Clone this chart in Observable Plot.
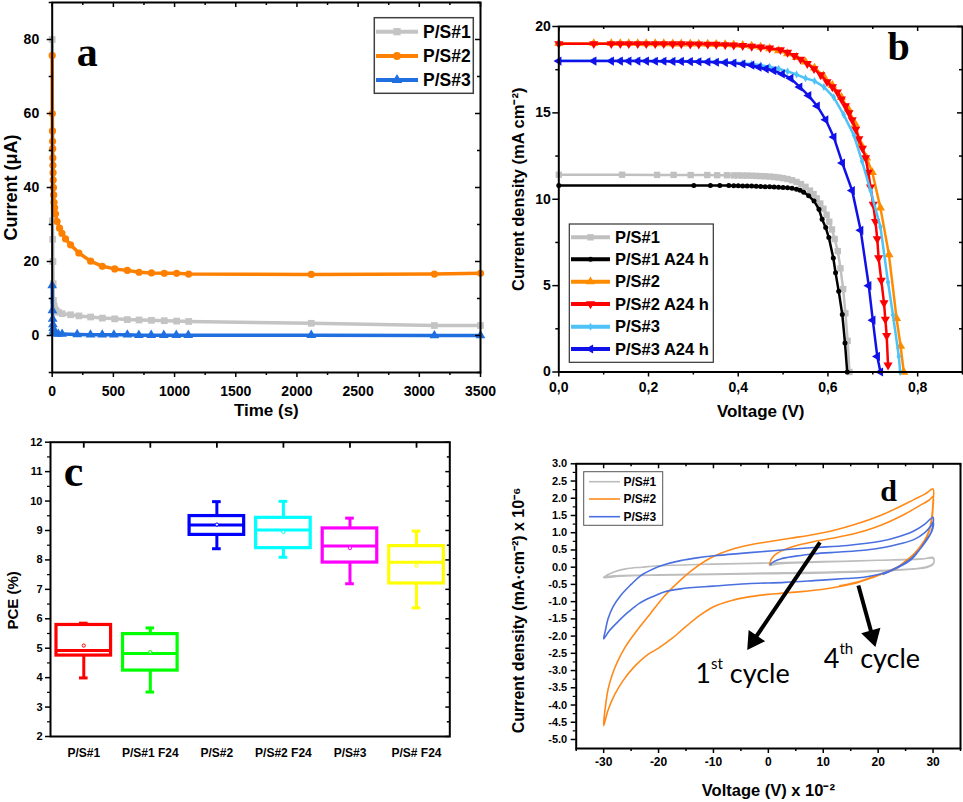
<!DOCTYPE html>
<html><head><meta charset="utf-8">
<script src="https://cdn.jsdelivr.net/npm/d3@7"></script>
<script src="https://cdn.jsdelivr.net/npm/@observablehq/plot@0.6"></script>
<style>
body{margin:0;background:#fff;}
#wrap{position:relative;width:963px;height:802px;overflow:hidden;background:#fff;}
</style>
</head><body><div id="wrap"></div>
<script>
// ===================== DATA =====================
// Panel a: current vs time
const aNames = ["P/S#1", "P/S#2", "P/S#3"];
const aColors = ["#c4c4c4", "#ff8000", "#1f6fe0"];
const ps1Time = [0, 2, 4, 6, 8, 10, 15, 20, 30, 50, 81, 150, 218, 314, 410, 511, 614, 710, 811, 916, 1017, 1115, 2117, 3123, 3500];
const ps1Current = [80, 31, 26, 20, 14, 9.5, 8.0, 7.3, 6.8, 6.3, 5.9, 5.6, 5.3, 5.0, 4.7, 4.5, 4.3, 4.2, 4.1, 4.0, 3.9, 3.8, 3.3, 2.7, 2.7];
const ps2Time = [0, 1, 2, 3, 4, 5, 6, 7, 8, 10, 12, 15, 20, 27, 40, 60, 80, 109, 150, 218, 314, 410, 511, 614, 710, 811, 916, 1017, 1115, 2117, 3123, 3500];
const ps2Current = [75.7, 60, 55.3, 52.5, 50.5, 48, 46, 44, 42, 40, 38, 36, 34.5, 32.9, 30.8, 29.0, 27.6, 26.1, 24.5, 22.3, 20.1, 18.7, 18.0, 17.6, 17.1, 16.9, 16.8, 16.8, 16.6, 16.5, 16.6, 16.8];
const ps3Time = [0, 2, 4, 6, 8, 10, 15, 20, 30, 50, 81, 204, 313, 409, 504, 614, 708, 809, 912, 1014, 1112, 2117, 3123, 3500];
const ps3Current = [13.5, 6.8, 4.5, 3.0, 2.0, 1.2, 0.8, 0.6, 0.5, 0.4, 0.4, 0.3, 0.2, 0.2, 0.2, 0.2, 0.1, 0.1, 0.1, 0.1, 0.1, 0.1, 0.0, 0.0];

// Panel b: J-V curves
const bNames = ["P/S#1", "P/S#1 A24 h", "P/S#2", "P/S#2 A24 h", "P/S#3", "P/S#3 A24 h"];
const bColors = ["#c0c0c0", "#000000", "#ff8c00", "#ff0000", "#4fc3f7", "#1010e8"];
const gV = [0, 0.141, 0.219, 0.256, 0.294, 0.331, 0.353, 0.375, 0.39, 0.40, 0.41, 0.42, 0.43, 0.44, 0.45, 0.46, 0.47, 0.48, 0.49, 0.50, 0.51, 0.52, 0.53, 0.54, 0.55, 0.56, 0.568, 0.575, 0.583, 0.59, 0.597, 0.603, 0.609, 0.615, 0.622, 0.628, 0.634, 0.639, 0.644, 0.648];
const gJ = [11.42, 11.42, 11.41, 11.41, 11.4, 11.4, 11.39, 11.39, 11.38, 11.38, 11.37, 11.37, 11.36, 11.35, 11.34, 11.33, 11.31, 11.29, 11.26, 11.22, 11.17, 11.1, 11.0, 10.88, 10.72, 10.5, 10.3, 10.05, 9.75, 9.45, 9.1, 8.7, 8.25, 7.7, 7.0, 6.0, 4.8, 3.4, 1.8, 0.0];
const kV = [0, 0.301, 0.338, 0.359, 0.379, 0.39, 0.40, 0.41, 0.42, 0.43, 0.44, 0.45, 0.46, 0.47, 0.48, 0.49, 0.50, 0.51, 0.52, 0.53, 0.538, 0.546, 0.557, 0.569, 0.580, 0.587, 0.595, 0.602, 0.612, 0.617, 0.624, 0.632, 0.638, 0.643];
const kJ = [10.8, 10.8, 10.8, 10.79, 10.79, 10.78, 10.78, 10.77, 10.77, 10.76, 10.75, 10.74, 10.73, 10.72, 10.71, 10.7, 10.68, 10.66, 10.63, 10.58, 10.52, 10.4, 10.2, 9.9, 9.42, 8.84, 8.36, 7.78, 6.6, 5.74, 4.68, 3.33, 1.68, 0.0];
const oV = [0, 0.078, 0.117, 0.137, 0.156, 0.176, 0.195, 0.215, 0.234, 0.254, 0.273, 0.293, 0.312, 0.332, 0.351, 0.371, 0.39, 0.41, 0.43, 0.45, 0.47, 0.49, 0.51, 0.53, 0.55, 0.57, 0.59, 0.61, 0.63, 0.645, 0.661, 0.673, 0.686, 0.699, 0.717, 0.736, 0.753, 0.762, 0.769];
const oJ = [19.02, 19.02, 19.02, 19.02, 19.02, 19.02, 19.01, 19.01, 19.01, 19.0, 19.0, 19.0, 18.99, 18.98, 18.97, 18.96, 18.94, 18.91, 18.87, 18.81, 18.72, 18.6, 18.43, 18.22, 17.95, 17.6, 17.15, 16.6, 15.9, 15.25, 14.35, 13.2, 12.4, 11.55, 9.5, 6.8, 3.1, 1.5, 0.0];
const rV = [0, 0.078, 0.117, 0.137, 0.156, 0.176, 0.195, 0.215, 0.234, 0.254, 0.273, 0.293, 0.312, 0.332, 0.351, 0.371, 0.39, 0.41, 0.43, 0.45, 0.47, 0.494, 0.51, 0.525, 0.539, 0.554, 0.569, 0.584, 0.598, 0.61, 0.621, 0.63, 0.639, 0.647, 0.654, 0.662, 0.669, 0.677, 0.684, 0.69, 0.695, 0.701, 0.706, 0.71, 0.713, 0.719, 0.725, 0.728, 0.731, 0.734];
const rJ = [19.0, 19.0, 19.0, 19.0, 19.0, 19.0, 19.0, 19.0, 19.0, 18.99, 18.99, 18.98, 18.98, 18.97, 18.96, 18.94, 18.92, 18.89, 18.85, 18.8, 18.74, 18.65, 18.5, 18.32, 18.1, 17.85, 17.55, 17.2, 16.8, 16.5, 16.2, 15.8, 15.4, 15.0, 14.6, 14.05, 13.5, 12.95, 12.4, 11.55, 10.7, 9.7, 8.7, 7.7, 6.6, 5.3, 4.0, 3.05, 2.1, 0.4];
const lV = [0, 0.078, 0.117, 0.137, 0.156, 0.176, 0.195, 0.215, 0.234, 0.254, 0.273, 0.293, 0.312, 0.332, 0.351, 0.371, 0.39, 0.41, 0.43, 0.45, 0.47, 0.49, 0.51, 0.53, 0.55, 0.57, 0.591, 0.613, 0.635, 0.658, 0.676, 0.695, 0.717, 0.734, 0.745, 0.758, 0.761];
const lJ = [18.02, 18.02, 18.02, 18.02, 18.02, 18.02, 18.01, 18.01, 18.0, 18.0, 18.0, 17.99, 17.98, 17.97, 17.96, 17.94, 17.92, 17.88, 17.83, 17.76, 17.67, 17.55, 17.4, 17.22, 17.0, 16.85, 16.5, 15.9, 14.9, 13.7, 12.2, 10.5, 8.4, 5.2, 3.3, 0.9, 0.0];
const bluV = [0, 0.078, 0.117, 0.137, 0.156, 0.176, 0.195, 0.215, 0.234, 0.254, 0.273, 0.293, 0.312, 0.332, 0.351, 0.371, 0.39, 0.41, 0.43, 0.446, 0.462, 0.479, 0.498, 0.517, 0.537, 0.557, 0.576, 0.595, 0.613, 0.632, 0.654, 0.673, 0.691, 0.700, 0.710, 0.717];
const bluJ = [18.0, 18.0, 18.0, 18.0, 18.0, 18.0, 18.0, 17.99, 17.99, 17.98, 17.98, 17.97, 17.96, 17.95, 17.93, 17.91, 17.88, 17.83, 17.76, 17.64, 17.55, 17.45, 17.25, 17.0, 16.5, 16.0, 15.4, 14.6, 13.6, 12.1, 10.5, 8.2, 5.0, 3.0, 0.9, 0.0];

// Panel c: PCE box statistics
const cCats = ["P/S#1", "P/S#1 F24", "P/S#2", "P/S#2 F24", "P/S#3", "P/S# F24"];
const cColors = ["#ff0000", "#00ff00", "#0000ff", "#00ffff", "#ff00ff", "#ffff00"];
const cQ1 = [4.75, 4.24, 8.85, 8.40, 7.91, 7.20];
const cQ3 = [5.79, 5.48, 9.49, 9.43, 9.07, 8.47];
const cMedian = [4.92, 4.82, 9.19, 9.02, 8.47, 7.92];
const cLow = [3.99, 3.51, 8.38, 8.09, 7.19, 6.37];
const cHigh = [5.85, 5.69, 9.98, 9.99, 9.42, 8.98];
const cMean = [5.09, 4.87, 9.20, 8.95, 8.40, 7.80];

// Panel d: cyclic voltammetry loops [V x1e-2, J x1e-6]
const dNames = ["P/S#1", "P/S#2", "P/S#3"];
const dColors = ["#bdbdbd", "#ff8a1a", "#4a70e0"];
const cvGray = [[0.3,0.05],[2,0.1],[10,0.15],[20,0.2],[28,0.24],[30,0.26],[30.2,0.18],[30,0.08],[29,0.0],[26,-0.06],[20,-0.12],[10,-0.17],[0,-0.19],[-10,-0.21],[-20,-0.23],[-27,-0.26],[-30,-0.3],[-29.5,-0.24],[-28,-0.13],[-26,-0.05],[-23,0.0],[-20,0.04],[-10,0.09],[0,0.12],[10,0.16],[20,0.2],[28,0.24],[30,0.28],[30.2,0.2],[30,0.1],[28,-0.02],[20,-0.1],[10,-0.15],[0,-0.17],[-10,-0.2],[-20,-0.22],[-28,-0.25],[-30,-0.29]];
const cvOrange = [[0.2,0.08],[0.5,0.22],[1.2,0.36],[2.5,0.48],[5,0.62],[8,0.73],[11.3,0.83],[15.6,0.97],[19,1.13],[22,1.32],[25,1.55],[27.5,1.78],[29.3,1.95],[30,2.05],
  [30,1.75],[29.8,1.4],[29.4,1.1],[28.8,0.85],[27.8,0.6],[26.5,0.35],[25,0.15],[23.5,-0.02],[21.6,-0.15],[19,-0.3],[16.2,-0.45],[13,-0.56],[10,-0.64],[6,-0.71],[2.2,-0.76],[0,-0.79],[-3.85,-0.87],[-7,-0.98],[-9.9,-1.14],[-12.5,-1.4],[-15,-1.72],[-17.5,-2.06],[-20,-2.35],[-22.1,-2.55],[-24.5,-2.9],[-26.5,-3.3],[-28,-3.7],[-29.2,-4.15],[-30,-4.6],
  [-29.9,-4.35],[-29.6,-3.95],[-29.2,-3.55],[-28.5,-3.15],[-27.5,-2.75],[-26,-2.3],[-24,-1.85],[-21.5,-1.35],[-19,-0.85],[-16.5,-0.45],[-14,-0.1],[-11.5,0.18],[-9,0.38],[-6,0.55],[-3,0.66],[0,0.74],[4,0.84],[8.3,0.95],[12,1.07],[16,1.25],[20.4,1.5],[24,1.76],[26.5,1.96],[28.5,2.12],[30,2.27],
  [30,1.9],[29.8,1.5],[29.5,1.2],[28.9,0.92],[27.9,0.65],[26.5,0.38],[25,0.18],[23.5,0.0],[21.6,-0.13],[19,-0.28],[16.2,-0.43],[13,-0.54]];
const cvBlue = [[0.4,0.08],[1,0.16],[2.2,0.24],[5,0.32],[8.3,0.39],[13,0.44],[17.4,0.49],[21,0.57],[24,0.68],[26.5,0.8],[28.5,1.0],[29.6,1.2],[30,1.32],
  [30,1.15],[29.5,0.95],[28.7,0.75],[27.5,0.5],[26,0.25],[23.5,0.0],[21,-0.17],[17.4,-0.29],[14,-0.33],[8.3,-0.39],[3,-0.44],[-3.85,-0.48],[-10,-0.55],[-16,-0.63],[-19,-0.72],[-21,-0.85],[-23.5,-1.05],[-25.5,-1.3],[-27.5,-1.6],[-29,-1.85],[-30,-2.08],
  [-29.7,-1.85],[-29.2,-1.5],[-28.3,-1.15],[-26.9,-0.82],[-25,-0.5],[-23.3,-0.25],[-21,-0.05],[-19,0.07],[-16,0.19],[-13,0.27],[-9.9,0.33],[-5,0.4],[0.4,0.47],[4,0.52],[8.3,0.57],[14.4,0.63],[20.4,0.75],[24,0.9],[26.5,1.05],[28.5,1.25],[30,1.45],
  [30,1.25],[29.6,1.0],[28.7,0.78],[27.5,0.5],[26,0.22],[23.5,-0.02],[21,-0.2]];
const dArrows = [{x1: 9.4, y1: 0.72, x2: -3.85, y2: -2.40}, {x1: 16.4, y1: -0.53, x2: 19.5, y2: -2.32}];
const dNotes = [{v: -13.3, j: -3.37, label: "1st cycle"}, {v: 10.1, j: -2.92, label: "4th cycle"}];

// ===================== HELPERS =====================
const W = 963, H = 802;
const FONT = "'Liberation Sans', Arial, Helvetica, sans-serif";
const SERIF = "'Liberation Serif', 'Times New Roman', serif";
const svgStyle = `position:absolute;left:0;top:0;background:transparent;overflow:visible;font-family:${FONT};font-weight:bold;`;
const wrap = document.getElementById("wrap");
function margins(L, R, T, B) { return {marginLeft: L, marginRight: W - R, marginTop: T, marginBottom: H - B}; }
function seq(a, b, step) { const out = []; for (let k = 0; a + k * step <= b + 1e-9; k++) out.push(+(a + k * step).toFixed(6)); return out; }
function inTop(vals, len, T, B, sw = 1.5) { return Plot.tickX(vals, {x: d => d, insetBottom: (B - T) - len, stroke: "black", strokeWidth: sw}); }
function inRight(vals, len, L, R, sw = 1.5) { return Plot.tickY(vals, {y: d => d, insetLeft: (R - L) - len, stroke: "black", strokeWidth: sw}); }
function title(str, opts) { return Plot.text([str], {text: d => d, textAnchor: "middle", lineAnchor: "middle", ...opts}); }
function letter(str, opts) { return Plot.text([str], {text: d => d, frameAnchor: "top-left", textAnchor: "middle", lineAnchor: "bottom", fontFamily: SERIF, fontWeight: "bold", ...opts}); }
const symbolMap = {square: d3.symbolSquare, circle: d3.symbolCircle, triangle: d3.symbolTriangle, diamond: d3.symbolDiamond};
function addLegend(svg, o) {
  const g = d3.select(svg).append("g");
  g.append("rect").attr("x", o.x0).attr("y", o.y0).attr("width", o.x1 - o.x0).attr("height", o.y1 - o.y0)
    .attr("fill", "white").attr("stroke", o.border).attr("stroke-width", o.borderWidth);
  o.rows.forEach((r, i) => {
    const y = o.ys[i];
    g.append("line").attr("x1", o.lx0).attr("x2", o.lx1).attr("y1", y).attr("y2", y)
      .attr("stroke", r.color).attr("stroke-width", o.lineWidth);
    if (r.symbol) {
      g.append("path").attr("d", d3.symbol(symbolMap[r.symbol], Math.PI * r.r * r.r)())
        .attr("transform", `translate(${(o.lx0 + o.lx1) / 2},${y}) rotate(${r.rotate || 0})`).attr("fill", r.color);
    }
    g.append("text").attr("x", o.tx).attr("y", y).attr("dy", "0.35em").attr("text-anchor", "start")
      .attr("font-size", o.fontSize).attr("font-weight", "bold").attr("fill", "black").text(r.name);
  });
}

// ===================== PANEL A =====================
const aL = 51.7, aR = 480, aT = 2, aB = 372;
const aSeries = [
  {t: ps1Time, v: ps1Current, symbol: "square", r: 3.8},
  {t: ps2Time, v: ps2Current, symbol: "circle", r: 3.6},
  {t: ps3Time, v: ps3Current, symbol: "triangle", r: 3.6}
].map((s, k) => ({...s, name: aNames[k], color: aColors[k], data: s.t.map((t, i) => ({t, v: s.v[i]}))}));
const plotA = Plot.plot({
  width: W, height: H, ...margins(aL, aR, aT, aB), style: svgStyle,
  x: {domain: [0, 3500], label: null}, y: {domain: [-10, 90], label: null},
  marks: [
    ...aSeries.flatMap(s => [
      Plot.line(s.data, {x: "t", y: "v", stroke: s.color, strokeWidth: 3.5}),
      Plot.dot(s.data, {x: "t", y: "v", symbol: s.symbol, r: s.r, fill: s.color, stroke: "none"})
    ]),
    Plot.frame({stroke: "black", strokeWidth: 2}),
    inTop(seq(0, 3500, 500), 5, aT, aB), inTop(seq(250, 3250, 500), 3, aT, aB),
    inRight(seq(0, 80, 20), 5, aL, aR), inRight(seq(-10, 90, 20), 3, aL, aR),
    Plot.axisX({ticks: seq(0, 3500, 500), tickSize: 5, tickPadding: 9, fontSize: 14, strokeWidth: 1.5, label: null, tickFormat: d => String(d)}),
    Plot.axisX({ticks: seq(250, 3250, 500), tickSize: 3, fill: "none", strokeWidth: 1.5, label: null}),
    Plot.axisY({ticks: seq(0, 80, 20), tickSize: 5, tickPadding: 8, fontSize: 14, strokeWidth: 1.5, label: null, tickFormat: d => String(d)}),
    Plot.axisY({ticks: seq(-10, 90, 20), tickSize: 3, fill: "none", strokeWidth: 1.5, label: null}),
    title("Time (s)", {frameAnchor: "bottom", dy: 38.5, fontSize: 17}),
    title("Current (μA)", {frameAnchor: "left", dx: -40.7, rotate: -90, fontSize: 18}),
    letter("a", {dx: 35, dy: 63, fontSize: 42})
  ]
});
wrap.appendChild(plotA);
addLegend(plotA, {x0: 374.3, y0: 17.7, x1: 473.3, y1: 93.3, border: "#404040", borderWidth: 1.5,
  ys: [31.7, 56, 80], lx0: 376, lx1: 418, tx: 423, fontSize: 17.5, lineWidth: 4,
  rows: aSeries.map(s => ({name: s.name, color: s.color, symbol: s.symbol, r: s.r + 0.3}))});

// ===================== PANEL B =====================
const bL = 558.3, bR = 962, bT = 26, bB = 371.5;
const bSeries = [
  {V: gV, J: gJ, symbol: "square", r: 3.6, rotate: 0},
  {V: kV, J: kJ, symbol: "circle", r: 2.5, rotate: 0},
  {V: oV, J: oJ, symbol: "triangle", r: 3.4, rotate: 0},
  {V: rV, J: rJ, symbol: "triangle", r: 3.4, rotate: 180},
  {V: lV, J: lJ, symbol: "diamond", r: 2.4, rotate: 0},
  {V: bluV, J: bluJ, symbol: "triangle", r: 3.4, rotate: -90}
].map((s, k) => ({...s, name: bNames[k], color: bColors[k], data: s.V.map((v, i) => ({v, j: s.J[i]}))}));
const fmtComma = d => d.toFixed(1).replace(".", ",");
const plotB = Plot.plot({
  width: W, height: H, ...margins(bL, bR, bT, bB), style: svgStyle,
  x: {domain: [0, 0.9], label: null}, y: {domain: [0, 20], label: null},
  marks: [
    ...bSeries.flatMap(s => [
      Plot.line(s.data, {x: "v", y: "j", stroke: s.color, strokeWidth: 2.5}),
      Plot.dot(s.data, {x: "v", y: "j", symbol: s.symbol, r: s.r, rotate: s.rotate, fill: s.color, stroke: "none"})
    ]),
    Plot.frame({stroke: "black", strokeWidth: 2}),
    inTop(seq(0, 0.8, 0.2), 5, bT, bB), inTop(seq(0.1, 0.9, 0.2), 3, bT, bB),
    inRight(seq(0, 20, 5), 5, bL, bR), inRight(seq(2.5, 17.5, 5), 3, bL, bR),
    Plot.axisX({ticks: seq(0, 0.8, 0.2), tickSize: 5, tickPadding: 5, fontSize: 14, strokeWidth: 1.5, label: null, tickFormat: fmtComma}),
    Plot.axisX({ticks: seq(0.1, 0.9, 0.2), tickSize: 3, fill: "none", strokeWidth: 1.5, label: null}),
    Plot.axisY({ticks: seq(0, 20, 5), tickSize: 6, tickPadding: 2, fontSize: 14, strokeWidth: 1.5, label: null, tickFormat: d => String(d)}),
    Plot.axisY({ticks: seq(2.5, 17.5, 5), tickSize: 3, fill: "none", strokeWidth: 1.5, label: null}),
    title("Voltage (V)", {frameAnchor: "bottom", dy: 40, fontSize: 17}),
    title("Current density (mA cm⁻²)", {frameAnchor: "left", dx: -40, dy: -10, rotate: -90, fontSize: 16.5}),
    letter("b", {dx: 339.7, dy: 33, fontSize: 40})
  ]
});
wrap.appendChild(plotB);
addLegend(plotB, {x0: 569.3, y0: 224, x1: 713.3, y1: 362.3, border: "#333", borderWidth: 1.2,
  ys: [237.3, 259.3, 281.7, 304, 326.7, 349], lx0: 571, lx1: 610, tx: 615, fontSize: 16.5, lineWidth: 4,
  rows: bSeries.map(s => ({name: s.name, color: s.color, symbol: s.symbol, r: s.r, rotate: s.rotate}))});

// ===================== PANEL C =====================
const cL = 50, cR = 449.3, cT = 441.7, cB = 736;
const cData = cCats.map((c, i) => ({i, cat: c, color: cColors[i], q1: cQ1[i], q3: cQ3[i], med: cMedian[i], lo: cLow[i], hi: cHigh[i], mean: cMean[i]}));
const hw = 0.41, cw = 0.065;
const plotC = Plot.plot({
  width: W, height: H, ...margins(cL, cR, cT, cB), style: svgStyle,
  x: {domain: [-0.5, 5.5], label: null}, y: {domain: [2, 12], label: null}, color: {type: "identity"},
  marks: [
    Plot.ruleX(cData, {x: "i", y1: "lo", y2: "q1", stroke: "color", strokeWidth: 3}),
    Plot.ruleX(cData, {x: "i", y1: "q3", y2: "hi", stroke: "color", strokeWidth: 3}),
    Plot.ruleY(cData, {y: "lo", x1: d => d.i - cw, x2: d => d.i + cw, stroke: "color", strokeWidth: 3}),
    Plot.ruleY(cData, {y: "hi", x1: d => d.i - cw, x2: d => d.i + cw, stroke: "color", strokeWidth: 3}),
    Plot.rect(cData, {x1: d => d.i - hw, x2: d => d.i + hw, y1: "q1", y2: "q3", fill: "white", stroke: "color", strokeWidth: 3.2}),
    Plot.ruleY(cData, {y: "med", x1: d => d.i - hw, x2: d => d.i + hw, stroke: "color", strokeWidth: 3}),
    Plot.dot(cData, {x: "i", y: "mean", r: 1.6, stroke: "color", fill: "white", strokeWidth: 1}),
    Plot.frame({stroke: "black", strokeWidth: 2}),
    inTop([0, 1, 2, 3, 4, 5], 6, cT, cB, 1.8),
    inRight(seq(2, 12, 1), 4, cL, cR), inRight(seq(2.5, 11.5, 1), 2.5, cL, cR),
    Plot.axisX({ticks: [0, 1, 2, 3, 4, 5], tickSize: 0, tickPadding: 12, fontSize: 12, label: null, tickFormat: i => cCats[i]}),
    Plot.axisY({ticks: seq(2, 12, 1), tickSize: 5, tickPadding: 3, fontSize: 11, strokeWidth: 1.5, label: null, tickFormat: d => String(d)}),
    Plot.axisY({ticks: seq(2.5, 11.5, 1), tickSize: 3, fill: "none", strokeWidth: 1.2, label: null}),
    title("PCE (%)", {frameAnchor: "left", dx: -37, dy: 11, rotate: -90, fontSize: 15}),
    letter("c", {dx: 23, dy: 43.3, fontSize: 44})
  ]
});
wrap.appendChild(plotC);

// ===================== PANEL D =====================
const dL = 575.7, dR = 960, dT = 463.3, dB = 748;
const dYDomain = [-5.262, 3.0];
const dxs = d3.scaleLinear([-35, 35], [dL, dR]);
const dys = d3.scaleLinear(dYDomain, [dB, dT]);
const dSeries = [cvGray, cvOrange, cvBlue].map((pts, k) => ({name: dNames[k], color: dColors[k], data: pts.map(([v, j]) => ({v, j}))}));
const headR = 7.4, headTip = 2 * headR * Math.sqrt(Math.PI / (3 * Math.sqrt(3))), headBase = 1.5 * headTip;
const arrowGeo = dArrows.map(a => {
  const px1 = dxs(a.x1), py1 = dys(a.y1), px2 = dxs(a.x2), py2 = dys(a.y2);
  const L = Math.hypot(px2 - px1, py2 - py1), ux = (px2 - px1) / L, uy = (py2 - py1) / L;
  return {...a,
    hx: dxs.invert(px2 - ux * headTip), hy: dys.invert(py2 - uy * headTip),
    bx: dxs.invert(px2 - ux * (headBase - 1)), by: dys.invert(py2 - uy * (headBase - 1)),
    angle: Math.atan2(ux, -uy) * 180 / Math.PI};
});
const plotD = Plot.plot({
  width: W, height: H, ...margins(dL, dR, dT, dB), style: svgStyle,
  x: {domain: [-35, 35], label: null}, y: {domain: dYDomain, label: null},
  marks: [
    ...dSeries.map(s => Plot.line(s.data, {x: "v", y: "j", stroke: s.color, strokeWidth: 1.6, curve: "catmull-rom"})),
    Plot.link(arrowGeo, {x1: "x1", y1: "y1", x2: "bx", y2: "by", stroke: "black", strokeWidth: 4}),
    Plot.dot(arrowGeo, {x: "hx", y: "hy", symbol: "triangle", r: headR, rotate: "angle", fill: "black", stroke: "none"}),
    Plot.text(dNotes, {x: "v", y: "j", text: "label", textAnchor: "start", lineAnchor: "bottom", fontFamily: "Lato, 'Open Sans', sans-serif", fontWeight: "normal", fontSize: 27}),
    Plot.frame({stroke: "black", strokeWidth: 2}),
    inTop(seq(-30, 30, 10), 5, dT, dB), inTop(seq(-35, 35, 10), 3, dT, dB),
    Plot.axisX({ticks: seq(-30, 30, 10), tickSize: 5, tickPadding: 4, fontSize: 12, strokeWidth: 1.5, label: null, tickFormat: d => String(d)}),
    Plot.axisX({ticks: seq(-35, 35, 10), tickSize: 3, fill: "none", strokeWidth: 1.5, label: null}),
    Plot.axisY({ticks: seq(-5, 3, 0.5), tickSize: 5, tickPadding: 4, fontSize: 11, strokeWidth: 1.5, label: null, tickFormat: d => d.toFixed(1)}),
    Plot.axisY({ticks: seq(-4.75, 2.75, 0.5), tickSize: 3, fill: "none", strokeWidth: 1.2, label: null}),
    title("Voltage (V) x 10⁻²", {frameAnchor: "bottom", dy: 42, fontSize: 16.5}),
    title("Current density (mA·cm⁻²) x 10⁻⁶", {frameAnchor: "left", dx: -57.4, dy: 4.3, rotate: -90, fontSize: 16}),
    letter("d", {dx: 312.3, dy: 36.7, fontSize: 30})
  ]
});
wrap.appendChild(plotD);
addLegend(plotD, {x0: 583.7, y0: 471.7, x1: 662.7, y1: 525.3, border: "#555", borderWidth: 1,
  ys: [481.7, 499, 516.7], lx0: 589, lx1: 620, tx: 623.5, fontSize: 12, lineWidth: 1.6,
  rows: dSeries.map(s => ({name: s.name, color: s.color}))});

// superscripts in the cycle annotations
const NS = "http://www.w3.org/2000/svg";
plotD.querySelectorAll("text").forEach(t => {
  const m = t.textContent.match(/^(\d)(st|th) (cycle)$/);
  if (!m) return;
  t.textContent = "";
  const a = document.createElementNS(NS, "tspan"); a.textContent = m[1];
  const b = document.createElementNS(NS, "tspan"); b.textContent = m[2]; b.setAttribute("dy", "-14"); b.setAttribute("font-size", "15");
  const c = document.createElementNS(NS, "tspan"); c.textContent = " " + m[3]; c.setAttribute("dy", "14");
  t.append(a, b, c);
});
</script>
</body></html>
